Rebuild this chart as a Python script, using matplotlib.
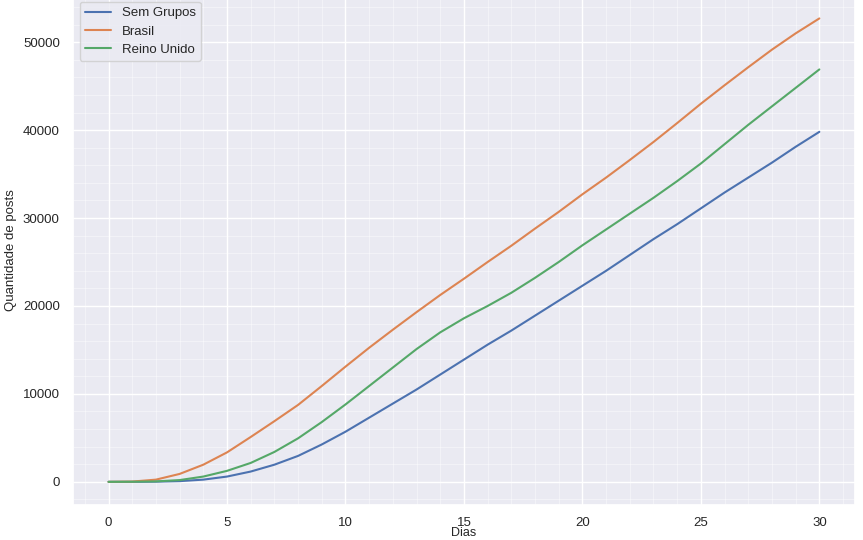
import matplotlib
matplotlib.use("Agg")
import matplotlib.pyplot as plt
import seaborn as sns
import numpy as np

dias = list(range(31))
sem_grupos = [0, 0, 20, 80, 250, 600, 1170, 1950, 2950, 4250, 5700, 7300, 8900, 10500,
              12200, 13900, 15600, 17200, 18900, 20600, 22300, 24000, 25800, 27600,
              29300, 31100, 32900, 34600, 36300, 38100, 39800]
brasil = [0, 30, 250, 900, 1950, 3350, 5100, 6900, 8750, 10900, 13100, 15250, 17300,
          19300, 21250, 23100, 25000, 26850, 28800, 30700, 32700, 34600, 36600, 38650,
          40800, 43000, 45100, 47150, 49150, 51000, 52700]
reino_unido = [0, 10, 50, 200, 600, 1250, 2150, 3400, 4950, 6800, 8800, 10900, 13000,
               15100, 17000, 18600, 20000, 21500, 23200, 25000, 26900, 28700, 30500,
               32300, 34200, 36200, 38400, 40600, 42700, 44800, 46900]
series_names = ["Sem Grupos", "Brasil", "Reino Unido"]

sns.set_theme(style="darkgrid")
plt.rcParams['font.family'] = ['Liberation Sans', 'DejaVu Sans']

fig = plt.figure(figsize=(8.63, 5.4), dpi=100)
ax = fig.add_axes([0.0846, 0.0648, 0.906, 0.944])

palette = sns.color_palette("deep")
for vals, name, c in zip([sem_grupos, brasil, reino_unido], series_names, palette[:3]):
    ax.plot(dias, vals, label=name, color=c, linewidth=1.5)

ax.minorticks_on()
ax.tick_params(which='minor', length=0)
ax.grid(which='major', color='white', linewidth=1.0)
ax.grid(which='minor', color='white', linewidth=0.4, alpha=0.7)

ax.set_xticks([0, 5, 10, 15, 20, 25, 30])
ax.set_yticks([0, 10000, 20000, 30000, 40000, 50000])
ax.tick_params(labelsize=9.5, colors='.15')
ax.tick_params(axis='x', pad=2.5)
ax.set_xlabel("Dias", fontsize=9, labelpad=-1.0)
ax.set_ylabel("Quantidade de posts", fontsize=9.5)
ax.legend(loc='upper left', fontsize=9.5, handlelength=2.0, labelspacing=0.45,
          borderaxespad=0.5)

fig.savefig("out.png", dpi=100)
